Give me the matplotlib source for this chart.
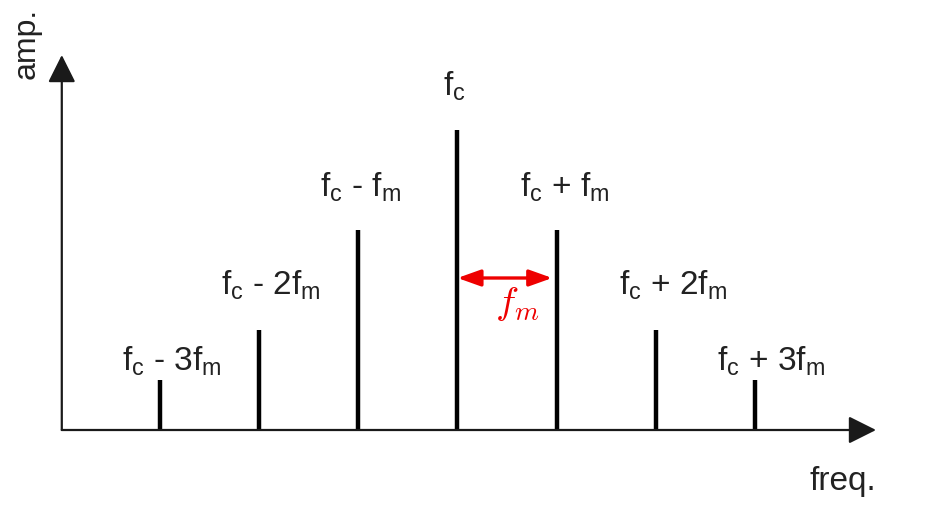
import matplotlib
matplotlib.use('Agg')
import matplotlib.pyplot as plt

# spectral lines, offsets in units of f_m around the carrier
offsets = [-3, -2, -1, 0, 1, 2, 3]
amps = [0.5, 1.0, 2.0, 3.0, 2.0, 1.0, 0.5]
labels = [r'$\mathrm{f_c}$ - 3$\mathrm{f_m}$', r'$\mathrm{f_c}$ - 2$\mathrm{f_m}$',
          r'$\mathrm{f_c}$ - $\mathrm{f_m}$', r'$\mathrm{f_c}$',
          r'$\mathrm{f_c}$ + $\mathrm{f_m}$', r'$\mathrm{f_c}$ + 2$\mathrm{f_m}$',
          r'$\mathrm{f_c}$ + 3$\mathrm{f_m}$']

# label placement (layout only)
label_dx = [0.12, 0.12, 0.02, -0.03, 0.08, 0.17, 0.16]
label_dy = [0.02, 0.28, 0.26, 0.27, 0.26, 0.28, 0.02]

plt.rcParams['font.family'] = 'Liberation Sans'
plt.rcParams['mathtext.fontset'] = 'custom'
plt.rcParams['mathtext.rm'] = 'Liberation Sans'
plt.rcParams['mathtext.it'] = 'Liberation Sans'

fig = plt.figure(figsize=(9.27, 5.09), dpi=100)
ax = fig.add_axes([0, 0, 1, 1])
ax.set_xlim(-4.613, 4.734)
ax.set_ylim(-0.79, 4.30)
ax.axis('off')

axis_col = '#1a1a1a'
head = '-|>,head_length=17,head_width=8.5'
# axes with arrow heads
ax.annotate('', xy=(4.22, 0), xytext=(-3.99, 0),
            arrowprops=dict(arrowstyle=head, lw=1.6, color=axis_col,
                            mutation_scale=1, shrinkA=0, shrinkB=0))
ax.annotate('', xy=(-3.99, 3.75), xytext=(-3.99, 0),
            arrowprops=dict(arrowstyle=head, lw=1.6, color=axis_col,
                            mutation_scale=1, shrinkA=0, shrinkB=0))

ax.vlines(offsets, 0, amps, colors='black', lw=3.2)

for x, a, lab, dx, dy in zip(offsets, amps, labels, label_dx, label_dy):
    ax.text(x + dx, a + dy, lab, ha='center', va='bottom', fontsize=24, color='#222222')

ax.text(-4.34, 4.22, 'amp.', rotation=90, ha='center', va='top', fontsize=23, color='#222222')
ax.text(3.89, -0.60, 'freq.', ha='center', va='baseline', fontsize=24, color='#222222')

# spacing marker between carrier and first sideband
ax.annotate('', xy=(0.955, 1.52), xytext=(0.0, 1.52),
            arrowprops=dict(arrowstyle='<|-|>,head_length=14,head_width=5', lw=2.4,
                            color='#ee0000', mutation_scale=1, shrinkA=0, shrinkB=0))
ax.text(0.6, 1.26, r'$f_m$', color='#ee0000', fontsize=28, ha='center', va='center',
        math_fontfamily='cm')

fig.savefig('out.png', dpi=100)
